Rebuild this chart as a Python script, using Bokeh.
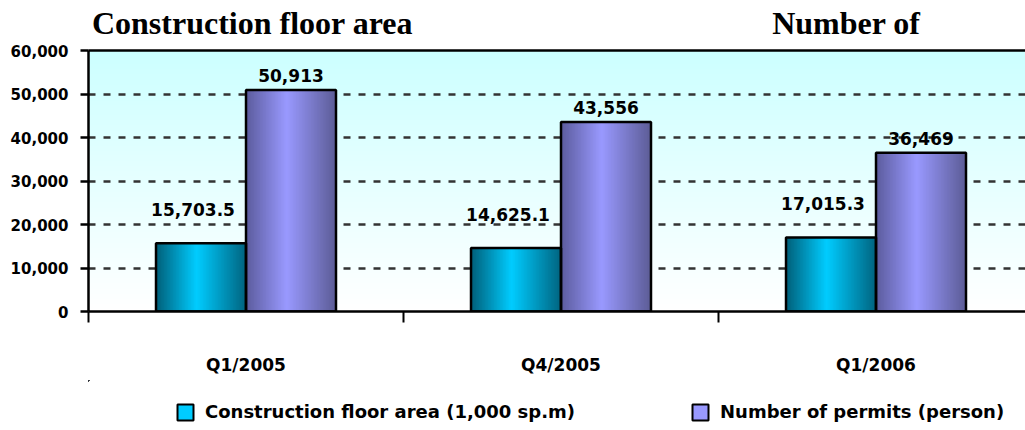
import numpy as np
from bokeh.plotting import figure
from bokeh.layouts import column
from bokeh.models import (Range1d, FixedTicker, LinearAxis, NumeralTickFormatter,
                          Legend, LegendItem, ColumnDataSource)
from bokeh.core.properties import value
from bokeh.embed import file_html
from bokeh.resources import INLINE

# ---------------- data ----------------
categories = ["Q1/2005", "Q4/2005", "Q1/2006"]
floor_area = [15703.5, 14625.1, 17015.3]        # 1,000 sp.m
permits = [50913, 43556, 36469]                  # person
series_names = ["Construction floor area (1,000 sp.m)", "Number of permits (person)"]
y_ticks = [0, 10000, 20000, 30000, 40000, 50000, 60000]
titles = ["Construction floor area", "Number of"]
title_pos = [0.5206, 2.406]   # category-axis units

FONT = "DejaVu Sans"
CYAN, PURPLE = "#00CCFF", "#9999FF"

def rgba_u32(r, g, b, a=255):
    return (a << 24) | (b << 16) | (g << 8) | r

def lerp(c1, c2, t):
    return tuple(int(round(c1[i] + (c2[i] - c1[i]) * t)) for i in range(3))

def h_gradient(edge_l, center, edge_r, n=120, cpos=0.45):
    row = np.zeros((1, n), dtype=np.uint32)
    for i in range(n):
        t = i / (n - 1)
        if t <= cpos:
            c = lerp(edge_l, center, t / cpos)
        else:
            c = lerp(center, edge_r, (t - cpos) / (1 - cpos))
        row[0, i] = rgba_u32(*c)
    return row

def v_gradient(bottom, top, n=200):
    col = np.zeros((n, 1), dtype=np.uint32)
    for i in range(n):
        col[i, 0] = rgba_u32(*lerp(bottom, top, i / (n - 1)))
    return col

n = len(categories)
bar_w = 1 / 3.5
x_end = (1025 - 88) / 315.0

p = figure(width=1025, height=380, output_backend="svg", toolbar_location=None,
           x_range=Range1d(0, x_end), y_range=Range1d(0, 60000),
           min_border_left=88, min_border_top=50, min_border_bottom=69,
           min_border_right=0, background_fill_color="white",
           border_fill_color="white", outline_line_color=None)

# plot-area background gradient
p.image_rgba(image=[v_gradient((255, 255, 255), (204, 255, 255))],
             x=0, y=0, dw=float(n), dh=60000, level="image")

p.xgrid.grid_line_color = None
p.ygrid.ticker = FixedTicker(ticks=y_ticks[1:-1])
p.ygrid.grid_line_color = "#333333"
p.ygrid.grid_line_width = 2.5
p.ygrid.grid_line_dash = "7 8"
p.ygrid.level = "image"

idx = np.arange(n)
cyan_x = idx + 0.5 - bar_w / 2
purp_x = idx + 0.5 + bar_w / 2

cyan_grad = h_gradient((0, 96, 122), (0, 204, 255), (0, 100, 128))
purp_grad = h_gradient((92, 92, 158), (153, 153, 255), (92, 92, 150))

src_c = ColumnDataSource(dict(x=cyan_x, left=cyan_x - bar_w / 2, top=floor_area,
                              img=[cyan_grad] * n,
                              lab=["{:,.1f}".format(v) for v in floor_area]))
src_p = ColumnDataSource(dict(x=purp_x, left=purp_x - bar_w / 2, top=permits,
                              img=[purp_grad] * n,
                              lab=["{:,}".format(v) for v in permits]))

p.image_rgba(image="img", x="left", y=0, dw=bar_w, dh="top", source=src_c)
p.image_rgba(image="img", x="left", y=0, dw=bar_w, dh="top", source=src_p)
p.vbar(x="x", top="top", width=bar_w, source=src_c, fill_color=None,
       line_color="black", line_width=2.5)
p.vbar(x="x", top="top", width=bar_w, source=src_p, fill_color=None,
       line_color="black", line_width=2.5)

p.text(x="x", y="top", text="lab", source=src_c, text_align="center",
       text_baseline="bottom", y_offset=-27, x_offset=-8,
       text_font=value(FONT), text_font_style="bold", text_font_size="17px",
       text_color="black")
p.text(x="x", y="top", text="lab", source=src_p, text_align="center",
       text_baseline="bottom", y_offset=-8,
       text_font=value(FONT), text_font_style="bold", text_font_size="17px",
       text_color="black")

# y axis
ya = p.yaxis[0]
ya.ticker = FixedTicker(ticks=y_ticks)
ya.formatter = NumeralTickFormatter(format="0,0")
ya.axis_line_width = 2.5
ya.axis_line_color = "black"
ya.major_tick_out = 8
ya.major_tick_in = 0
ya.major_tick_line_width = 2.5
ya.minor_tick_line_color = None
ya.major_label_standoff = 12
ya.major_label_text_font = FONT
ya.major_label_text_font_style = "bold"
ya.major_label_text_font_size = "15px"
ya.major_label_text_color = "black"

# x axis
xa = p.xaxis[0]
xa.ticker = FixedTicker(ticks=list(idx + 0.5), minor_ticks=list(range(n + 1)))
xa.major_label_overrides = {float(i + 0.5): c for i, c in enumerate(categories)}
xa.axis_line_width = 2.5
xa.axis_line_color = "black"
xa.major_tick_line_color = None
xa.major_tick_out = 0
xa.major_tick_in = 0
xa.minor_tick_out = 11
xa.minor_tick_in = 0
xa.minor_tick_line_width = 2
xa.minor_tick_line_color = "black"
xa.major_label_standoff = 32
xa.major_label_text_font = FONT
xa.major_label_text_font_style = "bold"
xa.major_label_text_font_size = "17px"
xa.major_label_text_color = "black"

# top border + the two headings
top_ax = LinearAxis(ticker=FixedTicker(ticks=title_pos), axis_line_width=2.5,
                    axis_line_color="black", major_tick_line_color=None,
                    major_tick_out=0, major_tick_in=0,
                    minor_tick_line_color=None, major_label_standoff=10,
                    major_label_overrides={t: s for t, s in zip(title_pos, titles)},
                    major_label_text_font="Liberation Serif",
                    major_label_text_font_style="bold",
                    major_label_text_font_size="32px",
                    major_label_text_color="black")
p.add_layout(top_ax, "above")

# ---------------- legend strip ----------------
# legend-only renderers: their bars lie far outside this strip's ranges,
# so only the legend swatches are visible
lg = figure(width=1025, height=50, output_backend="svg", toolbar_location=None,
            x_range=Range1d(1000, 1001), y_range=Range1d(-2e6, -1e6),
            x_axis_location=None, y_axis_location=None,
            min_border=0, outline_line_color=None,
            background_fill_color="white", border_fill_color="white")
lg.grid.visible = False
r_c = lg.vbar(x="x", top="top", width=bar_w, source=src_c, fill_color=CYAN,
              line_color="black", line_width=2)
r_p = lg.vbar(x="x", top="top", width=bar_w, source=src_p, fill_color=PURPLE,
              line_color="black", line_width=2)
legend = Legend(items=[LegendItem(label=series_names[0], renderers=[r_c]),
                       LegendItem(label=series_names[1], renderers=[r_p])],
                orientation="horizontal", glyph_width=20, glyph_height=20,
                label_standoff=10, spacing=115, padding=0, margin=0,
                border_line_color=None, background_fill_alpha=0,
                label_text_font=FONT, label_text_font_style="bold",
                label_text_font_size="18px", label_text_color="black",
                location=(87, 8))
lg.add_layout(legend, "center")

layout = column(p, lg, spacing=0)
open("out.html", "w").write(file_html(layout, INLINE))
